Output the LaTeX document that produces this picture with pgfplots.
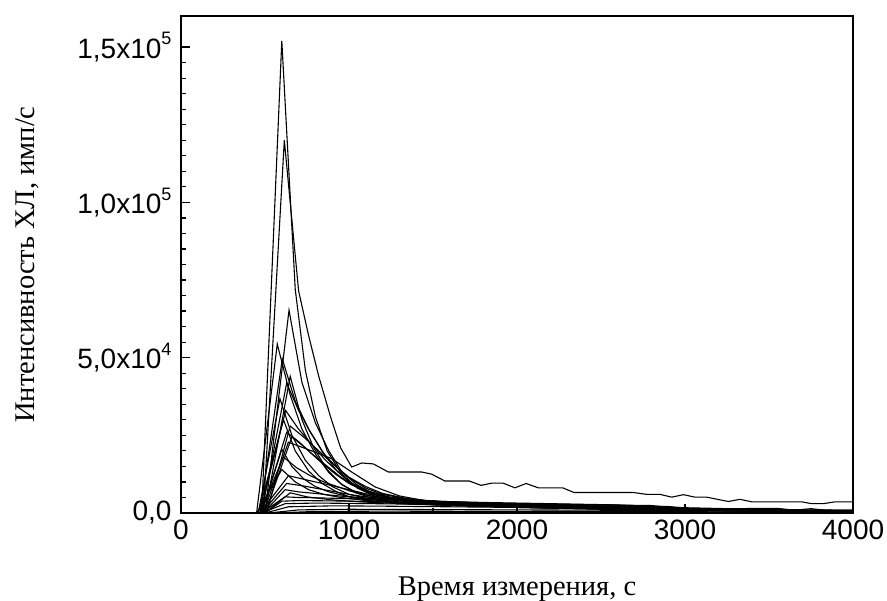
\documentclass[border=0pt]{standalone}
\usepackage{fontspec}
\setmainfont{Liberation Serif}
\newfontfamily\arial{Liberation Sans}
\usepackage{pgfplots}
\pgfplotsset{compat=1.18}
\usetikzlibrary{calc}
\newcommand{\sups}[1]{\raisebox{0.48em}{\fontsize{18}{20}\selectfont #1}}

\begin{document}
\begin{tikzpicture}
\begin{axis}[
    scale only axis, width=672pt, height=497pt,
    xmin=0, xmax=4000, ymin=0, ymax=160000,
    xtick={0,1000,2000,3000,4000},
    xticklabels={0,1000,2000,3000,4000},
    minor x tick num=1,
    ytick={0,50000,100000,150000},
    yticklabels={{0,0},{5,0x10\sups{4}},{1,0x10\sups{5}},{1,5x10\sups{5}}},
    minor y tick num=9,
    scaled y ticks=false,
    tick align=inside, tick pos=left,
    major tick length=9pt, minor tick length=5pt,
    every tick/.style={black, line width=1.2pt},
    axis line style={line width=1.3pt},
    ticklabel style={font=\arial\fontsize{28}{32}\selectfont},
    xticklabel style={yshift=-3pt},
    yticklabel style={xshift=-6pt},
    label style={font=\fontsize{28.5}{32}\selectfont},
    xlabel={Время измерения, с},
    ylabel={Интенсивность ХЛ, имп/с},
    xlabel style={at={(axis description cs:0.5,0)}, anchor=base, yshift=-82.7pt},
    ylabel style={at={(axis description cs:0,0.5)}, anchor=south, yshift=139pt},
    no markers,
    every axis plot post/.append style={black, solid, line width=1.1pt, mark=none},
]
% peak 1.52e5
\addplot coordinates {(0,0)(480,0)(600,152000)(680,72000)(740,46000)(800,31000)(870,20000)(950,13000)(1050,8000)(1150,5500)(1300,4000)(1500,3000)(1800,2200)(2200,1600)(2600,1200)(3000,900)(3500,700)(4000,600)};
% peak 1.2e5 with long tail
\addplot coordinates {(0,0)(490,0)(615,120000)(700,71500)(760,57000)(820,44000)(890,31000)(950,21000)(1016,14800)(1076,16100)(1145,15800)(1234,13200)(1433,13200)(1492,12500)(1571,10300)(1716,10300)(1786,8900)(1849,9600)(1918,9600)(1988,8100)(2054,9500)(2127,8100)(2272,8100)(2339,6600)(2692,6600)(2772,6000)(2851,6000)(2921,5100)(2990,5900)(3060,5100)(3129,5100)(3258,3700)(3327,4400)(3397,3600)(3695,3600)(3754,3000)(3823,3000)(3893,3600)(4000,3600)};
\addplot coordinates {(0,0)(500,0)(643,65300)(720,42000)(800,29000)(880,20000)(960,13000)(1050,9000)(1150,6000)(1300,4200)(1500,3200)(1800,2500)(2200,2000)(2600,1600)(3000,1000)(3500,700)(4000,500)};
\addplot coordinates {(0,0)(450,0)(573,54400)(650,38000)(720,27000)(800,19000)(880,13000)(960,9000)(1050,6500)(1200,4500)(1400,3300)(1700,2500)(2000,1800)(2500,1200)(3000,800)(3500,500)(4000,400)};
\addplot coordinates {(0,0)(470,0)(603,49600)(680,36000)(760,27000)(840,20000)(920,14000)(1000,10000)(1100,7000)(1250,5000)(1450,3500)(1700,2800)(2000,2300)(2500,1700)(3000,1100)(3500,700)(4000,500)};
\addplot coordinates {(0,0)(480,0)(629,41800)(700,33000)(770,26000)(850,19000)(930,14500)(1010,11000)(1100,8000)(1200,6000)(1350,4500)(1550,3500)(1800,2800)(2200,2200)(2700,1500)(3200,900)(4000,500)};
\addplot coordinates {(0,0)(460,0)(589,36800)(660,25000)(740,17000)(820,12000)(900,8500)(1000,6000)(1150,4200)(1350,3000)(1600,2400)(2000,1800)(2500,1300)(3000,800)(4000,400)};
\addplot coordinates {(0,0)(470,0)(623,33000)(700,27000)(780,22000)(860,17000)(940,13000)(1020,9500)(1120,7000)(1250,5000)(1400,3800)(1650,3000)(2000,2400)(2500,1800)(3000,1100)(3500,700)(4000,600)};
\addplot coordinates {(0,0)(480,0)(629,26000)(700,23000)(780,19000)(860,15500)(940,12000)(1020,9000)(1120,6500)(1250,4800)(1400,3700)(1650,3000)(2000,2500)(2500,1900)(3000,1200)(3500,800)(4000,700)};
\addplot coordinates {(0,0)(490,0)(639,22800)(768,20200)(897,17500)(1016,13200)(1155,8400)(1300,5500)(1450,4000)(1700,3200)(2000,2600)(2500,2000)(2800,1800)(3000,1000)(3500,600)(4000,500)};
\addplot coordinates {(0,0)(470,0)(609,18000)(690,14500)(770,12000)(850,10000)(930,8500)(1010,7000)(1100,5800)(1250,4500)(1450,3600)(1700,3000)(2000,2500)(2500,2000)(3000,1300)(3500,800)(4000,600)};
\addplot coordinates {(0,0)(480,0)(629,9500)(720,8800)(800,8000)(900,7000)(1000,6000)(1100,5200)(1250,4400)(1450,3800)(1700,3300)(2000,2800)(2500,2200)(2800,2000)(3000,1200)(3500,700)(4000,600)};
\addplot coordinates {(0,0)(480,0)(619,5200)(700,5000)(800,4900)(1000,4600)(1200,4300)(1500,3800)(1800,3400)(2200,3000)(2600,2600)(3000,1500)(3500,1000)(4000,800)};
\addplot coordinates {(0,0)(500,0)(650,44000)(720,30000)(790,21000)(870,14000)(950,9500)(1040,6500)(1150,4600)(1300,3500)(1500,2800)(1800,2200)(2200,1800)(2700,1300)(3200,800)(4000,400)};
\addplot coordinates {(0,0)(460,0)(610,30000)(680,20000)(760,13500)(840,9500)(920,7000)(1000,5200)(1150,3800)(1350,3000)(1600,2400)(2000,1900)(2500,1400)(3000,900)(4000,400)};
\addplot coordinates {(0,0)(500,0)(660,24500)(740,21000)(830,16500)(920,12500)(1000,9500)(1100,7000)(1220,5000)(1380,3800)(1600,3000)(2000,2400)(2500,1900)(3000,1100)(4000,500)};
\addplot coordinates {(0,0)(450,0)(600,14000)(680,10000)(760,7500)(850,6000)(950,5000)(1100,4000)(1300,3300)(1600,2700)(2000,2200)(2500,1700)(3000,1000)(4000,500)};
\addplot coordinates {(0,0)(470,0)(640,12000)(720,11000)(800,10000)(900,8800)(1000,7500)(1100,6200)(1250,5000)(1450,4000)(1700,3400)(2000,2900)(2500,2300)(2900,2100)(3100,1000)(4000,600)};
\addplot coordinates {(0,0)(490,0)(620,7500)(700,6800)(800,6300)(900,5700)(1000,5200)(1200,4400)(1400,3900)(1700,3400)(2000,3000)(2400,2700)(2800,2400)(3000,1400)(3500,900)(4000,700)};
\addplot coordinates {(0,0)(500,0)(600,3800)(700,4000)(900,3900)(1100,3700)(1400,3400)(1800,3100)(2200,2800)(2600,2500)(3000,1700)(3500,1100)(4000,900)};
\addplot coordinates {(0,0)(480,0)(620,3000)(800,3200)(1000,3100)(1300,2900)(1700,2600)(2100,2300)(2500,2100)(3000,1300)(3550,1500)(3650,900)(3750,1400)(3850,800)(4000,700)};
\addplot coordinates {(0,0)(500,0)(640,2000)(900,2300)(1200,2200)(1600,2000)(2000,1800)(2500,1500)(3000,1000)(3500,800)(4000,900)};
\addplot coordinates {(0,0)(520,0)(700,1000)(1000,1200)(1500,1100)(2000,1000)(2500,900)(3000,700)(3500,800)(4000,600)};
\addplot coordinates {(0,0)(550,0)(800,500)(1200,600)(2000,500)(3000,400)(4000,300)};
\addplot coordinates {(0,0)(500,0)(650,6500)(750,5200)(900,4200)(1100,3500)(1400,2800)(1800,2300)(2300,1800)(3000,900)(4000,400)};
\addplot coordinates {(0,0)(480,0)(600,20500)(660,15000)(730,11000)(800,8500)(880,6800)(980,5500)(1100,4500)(1300,3500)(1600,2700)(2000,2100)(2600,1500)(3200,800)(4000,400)};
\addplot coordinates {(0,0)(510,0)(650,28000)(740,24000)(830,19500)(920,15000)(1000,11500)(1100,8500)(1200,6300)(1350,4600)(1550,3600)(1800,2900)(2200,2300)(2700,1700)(3200,900)(4000,500)};
\end{axis}
\pgfresetboundingbox
\path ($(current axis.south west)+(-181pt,-88pt)$) rectangle ($(current axis.north east)+(34pt,16pt)$);
\end{tikzpicture}
\end{document}
